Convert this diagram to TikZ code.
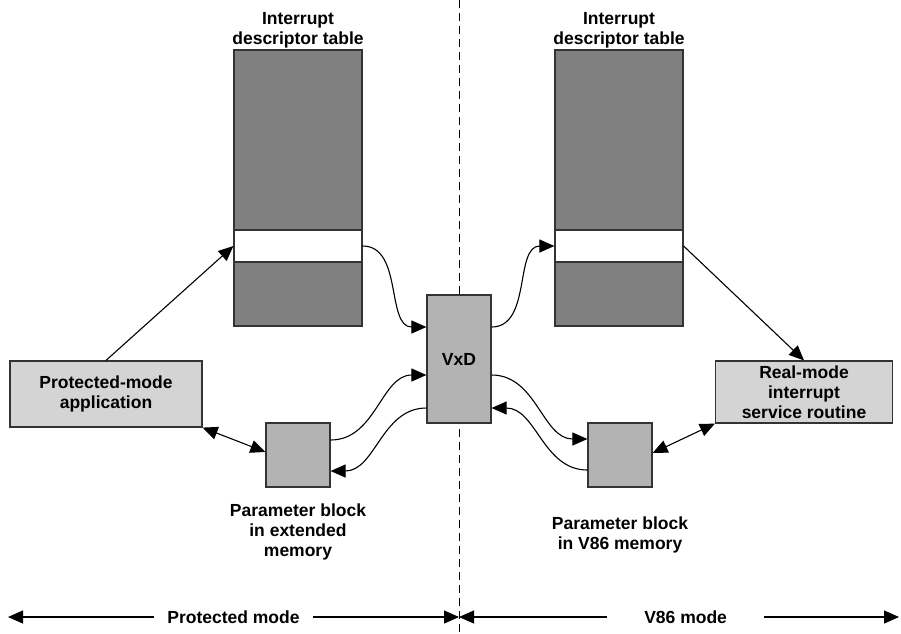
\documentclass[tikz,border=0pt]{standalone}
\usepackage{fontspec}
\setmainfont{Liberation Sans}
\usetikzlibrary{arrows.meta}
\definecolor{idtgray}{RGB}{128,128,128}
\definecolor{blkgray}{RGB}{179,179,179}
\definecolor{appgray}{RGB}{212,212,212}
\definecolor{edgegray}{RGB}{51,51,51}

\begin{document}
\begin{tikzpicture}[x=1pt,y=-1pt,line width=1.1pt,
    font=\fontsize{17.5}{20}\selectfont\bfseries,
    >={Triangle[length=15pt,width=13pt]},
    box/.style={draw=edgegray,line width=1.2pt,inner sep=0pt,align=center}]
    \useasboundingbox (0,0) rectangle (901,633);
    % dividing line
    \coordinate (divtop) at (459,0);
    \coordinate (divbot) at (459,633);
    \draw[line width=0.9pt,dash pattern=on 8pt off 5pt] (divtop) -- (divbot);
    % tables
    \node[box,fill=idtgray,minimum width=128pt,minimum height=276pt] (idtL) at (298,188) {};
    \node[box,fill=white,minimum width=128pt,minimum height=32pt] (slotL) at (298,246) {};
    \node[box,fill=idtgray,minimum width=128pt,minimum height=276pt] (idtR) at (619,188) {};
    \node[box,fill=white,minimum width=128pt,minimum height=32pt] (slotR) at (619,246) {};
    \node[align=center] (idtLlbl) at (298,30) {Interrupt\\descriptor table};
    \node[align=center] (idtRlbl) at (619,30) {Interrupt\\descriptor table};
    % boxes
    \node[box,fill=blkgray,minimum width=64pt,minimum height=128pt] (vxd) at (459,359) {VxD};
    \node[box,fill=appgray,minimum width=192pt,minimum height=66pt] (app) at (106,394) {Protected-mode\\application};
    \node[box,fill=appgray,minimum width=177pt,minimum height=62pt] (isr) at (804,392) {Real-mode\\interrupt\\service routine};
    \node[box,fill=blkgray,minimum size=64pt] (parL) at (298,455) {};
    \node[box,fill=blkgray,minimum size=64pt] (parR) at (620,455) {};
    \node[align=center] (parLlbl) at (298,532) {Parameter block\\in extended\\memory};
    \node[align=center] (parRlbl) at (620,535) {Parameter block\\in V86 memory};
    % connectors
    \draw [->] (app.north) -- (slotL.west);
    \draw [<->] (app.south east) -- ([yshift=3pt]parL.west);
    \draw [->] (slotL.east) to[out=0,in=180] ([yshift=32pt]vxd.west);
    \draw [->] ([yshift=15pt]parL.east) to[out=0,in=180] ([yshift=-16pt]vxd.west);
    \draw [->] ([yshift=-49pt]vxd.west) to[out=180,in=0] ([yshift=-16pt]parL.east);
    \draw [->] ([yshift=32pt]vxd.east) to[out=0,in=180] (slotR.west);
    \draw [->] ([yshift=-16pt]vxd.east) to[out=0,in=180] ([yshift=16pt]parR.west);
    \draw [->] ([yshift=-15pt]parR.west) to[out=180,in=0] ([yshift=-49pt]vxd.east);
    \draw [->] (slotR.east) -- (isr.north);
    \draw [<->] (isr.south west) -- ([yshift=2pt]parR.east);
    % modes
    \coordinate (pmL) at (8,617);
    \coordinate (modemid) at (459,617);
    \coordinate (v86R) at (899,617);
    \draw [<->] (pmL) -- node[fill=white,inner xsep=13pt]{Protected mode} (modemid);
    \draw [<->] (modemid) -- node[pos=0.515,fill=white,inner xsep=37pt]{V86 mode} (v86R);
\end{tikzpicture}
\end{document}
